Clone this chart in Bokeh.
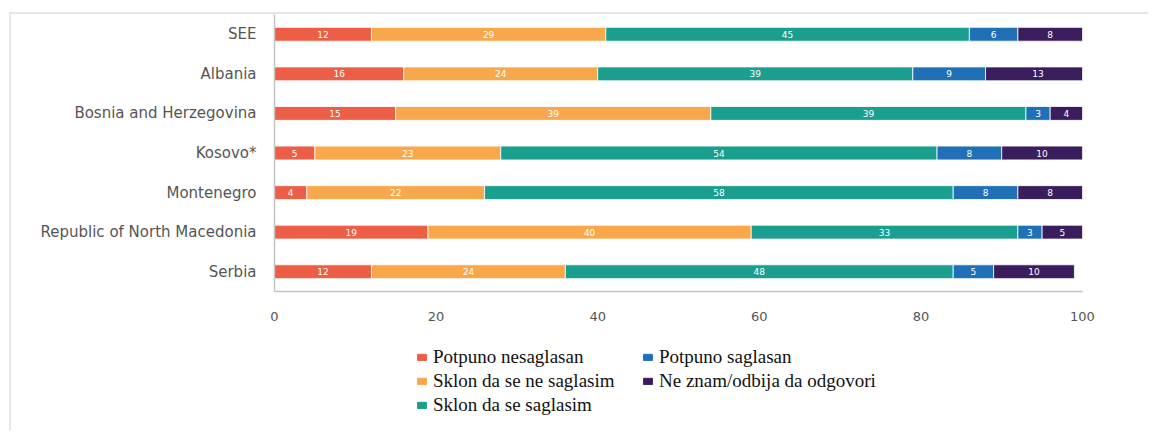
from bokeh.plotting import figure
from bokeh.layouts import column
from bokeh.models import ColumnDataSource, FactorRange, Legend, LegendItem, Range1d, FixedTicker
from bokeh.core.properties import value
from bokeh.embed import file_html
from bokeh.resources import INLINE

categories = ["SEE", "Albania", "Bosnia and Herzegovina", "Kosovo*", "Montenegro",
              "Republic of North Macedonia", "Serbia"]
series = ["Potpuno nesaglasan", "Sklon da se ne saglasim", "Sklon da se saglasim",
          "Potpuno saglasan", "Ne znam/odbija da odgovori"]
potpuno_nesaglasan = [12, 16, 15, 5, 4, 19, 12]
sklon_ne_saglasim = [29, 24, 39, 23, 22, 40, 24]
sklon_saglasim = [45, 39, 39, 54, 58, 33, 48]
potpuno_saglasan = [6, 9, 3, 8, 8, 3, 5]
ne_znam = [8, 13, 4, 10, 8, 5, 10]
colors = ["#ec5f46", "#f8a84a", "#1a9e8e", "#1f70b6", "#3a1d5c"]
x_ticks = [0, 20, 40, 60, 80, 100]

values = [potpuno_nesaglasan, sklon_ne_saglasim, sklon_saglasim, potpuno_saglasan, ne_znam]
keys = ["s0", "s1", "s2", "s3", "s4"]
data = {"cat": categories}
for k, v in zip(keys, values):
    data[k] = v
source = ColumnDataSource(data)

p = figure(y_range=FactorRange(*reversed(categories), range_padding=0.0),
           x_range=Range1d(0, 100),
           frame_width=808, frame_height=277,
           min_border_left=263, min_border_right=66, min_border_top=0, min_border_bottom=44,
           output_backend="svg", toolbar_location=None)

renderers = p.hbar_stack(keys, y="cat", height=0.35, color=colors, source=source,
                         line_color="white", line_width=0.8)

# segment labels
lx, ly, lt = [], [], []
for i, c in enumerate(categories):
    start = 0
    for v in values:
        lx.append(start + v[i] / 2)
        ly.append(c)
        lt.append(str(v[i]))
        start += v[i]
p.text(x=lx, y=ly, text=lt, text_color="white", text_font_size="9px",
       text_font=value("DejaVu Sans"), text_align="center", text_baseline="middle")

p.grid.visible = False
p.outline_line_color = None

p.xaxis.ticker = FixedTicker(ticks=x_ticks)
p.xaxis.major_tick_line_color = None
p.xaxis.minor_tick_line_color = None
p.xaxis.axis_line_color = "#c4c4c4"
p.xaxis.axis_line_width = 1.5
p.xaxis.major_label_text_font = "DejaVu Sans"
p.xaxis.major_label_text_font_size = "13px"
p.xaxis.major_label_text_color = "#555555"
p.xaxis.major_label_standoff = 14

p.yaxis.major_tick_line_color = None
p.yaxis.minor_tick_line_color = None
p.yaxis.axis_line_color = "#c4c4c4"
p.yaxis.axis_line_width = 1.5
p.yaxis.major_label_text_font = "DejaVu Sans"
p.yaxis.major_label_text_font_size = "15px"
p.yaxis.major_label_text_color = "#555555"
p.yaxis.major_label_standoff = 12

# legend figure (frame aligned with the main plot's frame by the column layout)
lg = figure(width=1137, height=95, x_range=Range1d(0, 1), y_range=Range1d(0, 1),
            x_axis_type=None, y_axis_type=None, min_border=0,
            output_backend="svg", toolbar_location=None)
lg.grid.visible = False
lg.outline_line_color = None
dummies = [lg.hbar(y=[-5], left=[0], right=[1], height=1, color=c) for c in colors]
items = [LegendItem(label=s, renderers=[r]) for s, r in zip(series, dummies)]
legend = Legend(items=items, location=(142, 14), orientation="vertical", nrows=3,
                label_text_font="Liberation Serif", label_text_font_size="19px",
                label_text_color="#111111", label_height=20, label_width=207,
                label_standoff=6, glyph_width=11, glyph_height=8, spacing=2,
                padding=0, margin=0, border_line_color=None, background_fill_alpha=0)
lg.add_layout(legend)

layout = column(p, lg, spacing=0)
layout.styles = {"border-left": "2px solid #e6e6e6", "border-top": "2px solid #e6e6e6",
                 "margin-left": "9px", "margin-top": "12px"}

open("out.html", "w").write(file_html(layout, INLINE))
